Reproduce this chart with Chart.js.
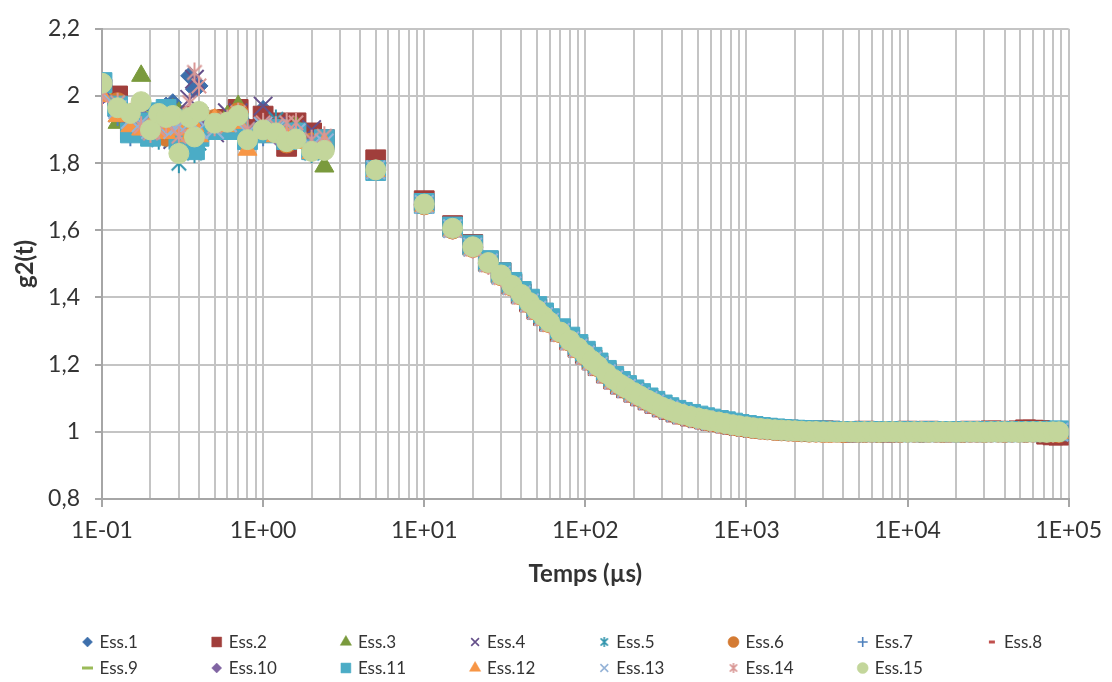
<!DOCTYPE html>
<html>
<head>
<meta charset="utf-8">
<script src="https://cdn.jsdelivr.net/npm/chart.js@4.4.1/dist/chart.umd.min.js"></script>
<style>
html,body{margin:0;padding:0;background:#fff}
#wrap{width:1112px;height:682px;position:relative}
</style>
</head>
<body>
<div id="wrap"><canvas id="c"></canvas></div>
<script>
// lag times (µs)
const tau = [0.1,0.125,0.15,0.175,0.2,0.225,0.25,0.275,0.3,0.35,0.375,0.4,0.5,0.6,0.7,0.8,1,1.2,1.4,1.6,2,2.4,
  5,10,15,20,25,30,35,40,45,50,
  55,60,70,80,90,100,
  110,120,135,150,165,180,200,
  220,245,270,300,330,365,400,
  450,500,550,600,670,740,820,900,1000,
  1100,1220,1350,1500,1650,1820,2000,
  2200,2450,2700,3000,3300,3650,4000,
  4450,4900,5400,6000,6650,7300,8100,9000,10000,
  11000,12200,13500,15000,16500,18200,20000,
  22000,24500,27000,30000,33000,36500,40000,
  44500,49000,54000,60000,66500,73000,80000,87000];

const ess1 = [2.02,1.97,1.93,1.95,1.90,1.92,1.97,1.98,1.93,2.06,2.02,2.03,1.90,1.92,1.95,1.91,1.96,1.90,1.92,1.91,1.84,1.86,
  1.782,1.680,1.607,1.553,1.506,1.469,1.439,1.412,1.388,1.366,
  1.347,1.330,1.300,1.275,1.253,1.233,
  1.215,1.199,1.177,1.158,1.143,1.132,1.119,
  1.108,1.096,1.086,1.075,1.068,1.060,1.054,
  1.048,1.043,1.039,1.035,1.031,1.027,1.023,1.020,1.016,
  1.013,1.011,1.009,1.007,1.006,1.005,1.004,
  1.003,1.002,1.001,1.001,1.000,1.001,1.000,
  1.000,1.001,1.000,1.000,1.001,1.000,1.000,1.001,1.000,
  1.000,1.001,1.000,1.000,1.001,1.000,1.000,
  1.001,1.000,1.000,1.001,1.000,1.000,1.001,
  1.000,1.000,1.001,1.000,1.000,1.001,1.000,1.001];
const ess2 = [2.02,2.00,1.90,1.93,1.92,1.89,1.95,1.90,1.92,1.94,1.91,1.93,1.92,1.93,1.96,1.90,1.94,1.92,1.85,1.92,1.89,1.87,
  1.810,1.688,1.614,1.558,1.508,1.474,1.440,1.411,1.387,1.365,
  1.346,1.329,1.299,1.274,1.252,1.232,
  1.214,1.197,1.175,1.157,1.142,1.131,1.118,
  1.107,1.095,1.085,1.074,1.067,1.059,1.053,
  1.047,1.042,1.038,1.034,1.030,1.026,1.022,1.019,1.016,
  1.013,1.011,1.009,1.007,1.006,1.005,1.004,
  1.003,1.002,1.002,1.003,1.002,1.001,1.000,
  0.999,1.001,1.002,1.000,1.001,0.999,1.000,1.001,1.002,
  1.001,1.000,1.002,1.001,1.000,1.001,1.000,
  1.001,1.002,1.000,1.001,1.003,1.002,1.001,
  1.001,1.003,1.006,1.005,1.004,0.993,0.991,0.990];
const ess3 = [2.01,1.92,1.88,2.06,1.87,1.93,1.89,1.96,1.95,1.91,1.93,1.92,1.90,1.94,1.97,1.89,1.90,1.88,1.90,1.91,1.87,1.79,
  1.776,1.676,1.603,1.549,1.502,1.464,1.433,1.406,1.382,1.360,
  1.341,1.324,1.294,1.269,1.247,1.227,
  1.209,1.193,1.171,1.153,1.138,1.127,1.114,
  1.103,1.091,1.081,1.071,1.063,1.056,1.049,
  1.043,1.038,1.034,1.030,1.026,1.022,1.018,1.015,1.012,
  1.009,1.007,1.005,1.003,1.002,1.001,1.000,
  0.999,0.998,0.997,0.997,0.996,0.995,0.994,
  0.993,0.992,0.993,0.992,0.993,0.995,0.996,0.996,0.997,
  0.997,0.998,0.997,0.996,0.997,0.998,0.997,
  0.998,0.997,0.998,0.997,0.998,0.998,0.997,
  0.998,0.997,0.998,0.998,0.997,0.998,0.997,0.998];
const ess4 = [2.00,1.95,1.90,1.94,1.88,1.91,1.93,1.87,1.90,1.99,2.05,1.94,1.89,1.95,1.95,1.90,1.97,1.91,1.90,1.89,1.90,1.86,
  1.781,1.679,1.606,1.551,1.505,1.468,1.437,1.410,1.386,1.364,
  1.345,1.328,1.298,1.273,1.251,1.231,
  1.213,1.197,1.175,1.157,1.142,1.131,1.118,
  1.107,1.095,1.085,1.074,1.067,1.059,1.053,
  1.047,1.042,1.038,1.034,1.030,1.026,1.022,1.019,1.016,
  1.013,1.011,1.009,1.007,1.006,1.005,1.003,
  1.002,1.001,1.001,1.000,1.000,1.000,0.999,
  1.000,1.000,0.999,1.000,1.000,0.999,1.000,1.000,1.000,
  0.999,1.000,1.000,0.999,1.000,1.000,1.000,
  0.999,1.000,1.000,1.000,0.999,1.000,1.000,
  0.999,1.000,1.000,0.999,1.000,1.000,0.999,1.000];
const ess5 = [2.03,1.96,1.89,1.93,1.91,1.87,1.90,1.92,1.80,1.86,1.83,1.86,1.92,1.90,1.93,1.88,1.91,1.93,1.90,1.87,1.83,1.85,
  1.779,1.677,1.607,1.553,1.507,1.470,1.440,1.413,1.389,1.368,
  1.349,1.332,1.302,1.277,1.255,1.235,
  1.217,1.201,1.179,1.161,1.145,1.134,1.121,
  1.110,1.098,1.088,1.077,1.069,1.062,1.055,
  1.049,1.044,1.040,1.036,1.032,1.028,1.024,1.021,1.018,
  1.015,1.012,1.010,1.008,1.007,1.006,1.005,
  1.004,1.003,1.002,1.001,1.001,1.000,1.001,
  1.000,1.000,1.001,1.000,1.000,1.001,1.000,1.000,1.001,
  1.000,1.000,1.001,1.000,1.000,1.001,1.000,
  1.000,1.001,1.000,1.000,1.001,1.000,1.000,
  1.001,1.000,1.000,1.001,1.000,1.000,1.001,1.002];
const ess6 = [2.01,1.98,1.91,1.92,1.90,1.93,1.88,1.94,1.90,1.91,1.90,1.89,1.93,1.92,1.95,1.88,1.89,1.90,1.86,1.89,1.86,1.85,
  1.779,1.676,1.604,1.549,1.502,1.465,1.434,1.407,1.383,1.361,
  1.342,1.325,1.295,1.270,1.248,1.228,
  1.210,1.194,1.172,1.154,1.139,1.128,1.115,
  1.104,1.092,1.082,1.071,1.064,1.056,1.050,
  1.044,1.039,1.035,1.031,1.027,1.023,1.019,1.016,1.013,
  1.010,1.008,1.006,1.004,1.003,1.002,1.001,
  1.000,0.999,0.999,0.998,0.998,0.999,0.998,
  0.999,0.999,0.998,0.999,0.998,0.999,0.999,0.998,0.999,
  0.999,0.998,0.999,0.999,0.998,0.999,0.999,
  0.998,0.999,0.999,0.998,0.999,0.999,0.998,
  0.999,0.999,0.998,0.999,0.999,0.998,0.999,0.998];
const ess7 = [2.03,1.94,1.88,1.96,1.93,1.89,1.91,1.95,1.92,1.89,1.92,1.94,1.91,1.90,1.94,1.87,1.88,1.91,1.89,1.90,1.85,1.84,
  1.780,1.679,1.607,1.552,1.505,1.468,1.438,1.411,1.387,1.365,
  1.346,1.329,1.299,1.274,1.252,1.232,
  1.214,1.198,1.176,1.158,1.142,1.132,1.119,
  1.108,1.095,1.085,1.075,1.067,1.060,1.053,
  1.047,1.042,1.038,1.034,1.030,1.026,1.022,1.019,1.016,
  1.013,1.011,1.009,1.007,1.006,1.005,1.003,
  1.002,1.001,1.001,1.000,1.000,1.000,1.000,
  0.999,1.000,1.000,1.000,1.000,0.999,1.000,1.000,1.000,
  1.000,0.999,1.000,1.000,1.000,1.000,0.999,
  1.000,1.000,1.000,1.000,0.999,1.000,1.000,
  1.000,1.000,0.999,1.000,1.000,1.000,1.000,1.001];
const ess8 = [2.00,1.96,1.93,1.92,1.94,1.92,1.90,1.93,1.91,1.93,1.95,1.92,1.90,1.91,1.93,1.89,1.90,1.89,1.88,1.87,1.86,1.85,
  1.783,1.681,1.608,1.553,1.506,1.469,1.437,1.410,1.386,1.364,
  1.345,1.328,1.298,1.273,1.251,1.231,
  1.213,1.197,1.175,1.157,1.142,1.131,1.118,
  1.107,1.095,1.085,1.074,1.067,1.059,1.053,
  1.047,1.042,1.038,1.034,1.030,1.026,1.022,1.019,1.016,
  1.013,1.011,1.009,1.007,1.006,1.005,1.004,
  1.003,1.002,1.002,1.001,1.002,1.001,1.002,
  1.003,1.002,1.001,1.002,1.001,1.002,1.003,1.002,1.001,
  1.002,1.001,1.002,1.003,1.002,1.001,1.002,
  1.001,1.002,1.003,1.002,1.001,1.002,1.003,
  1.002,1.004,1.003,1.004,1.003,1.004,1.003,1.004];
const ess9 = [2.01,1.95,1.92,1.95,1.91,1.90,1.92,1.94,1.89,1.92,1.93,1.91,1.91,1.92,1.94,1.88,1.89,1.90,1.89,1.88,1.85,1.84,
  1.778,1.677,1.605,1.550,1.503,1.466,1.435,1.408,1.384,1.362,
  1.343,1.326,1.296,1.271,1.249,1.229,
  1.211,1.195,1.173,1.155,1.140,1.129,1.116,
  1.105,1.093,1.083,1.072,1.065,1.057,1.051,
  1.045,1.040,1.036,1.032,1.028,1.024,1.020,1.017,1.014,
  1.011,1.009,1.007,1.005,1.004,1.003,1.002,
  1.001,1.000,0.999,0.998,0.998,0.997,0.998,
  0.997,0.998,0.997,0.998,0.998,0.997,0.998,0.999,0.998,
  0.998,0.999,0.998,0.998,0.999,0.998,0.998,
  0.999,0.998,0.998,0.999,0.998,0.998,0.999,
  0.998,0.998,0.999,0.998,0.998,0.999,0.998,0.998];
const ess10 = [2.00,1.95,1.92,1.94,1.89,1.92,1.90,1.93,1.88,1.93,1.90,1.91,1.92,1.91,1.94,1.89,1.90,1.88,1.89,1.88,1.86,1.85,
  1.780,1.678,1.606,1.551,1.504,1.467,1.436,1.409,1.385,1.363,
  1.344,1.327,1.297,1.272,1.250,1.230,
  1.212,1.196,1.174,1.156,1.141,1.130,1.117,
  1.106,1.094,1.084,1.073,1.066,1.058,1.052,
  1.046,1.041,1.037,1.033,1.029,1.025,1.021,1.018,1.015,
  1.012,1.010,1.008,1.006,1.005,1.004,1.003,
  1.002,1.001,1.000,1.000,0.999,1.000,1.000,
  0.999,1.000,1.000,1.000,0.999,1.000,1.000,0.999,1.000,
  1.000,1.000,0.999,1.000,1.000,0.999,1.000,
  1.000,1.000,0.999,1.000,1.000,1.000,0.999,
  1.000,1.000,0.999,1.000,1.000,0.999,1.000,1.000];
const ess11 = [2.04,1.97,1.89,1.92,1.88,1.95,1.96,1.93,1.87,1.91,1.84,1.88,1.90,1.90,1.92,1.87,1.89,1.90,1.87,1.89,1.84,1.87,
  1.778,1.680,1.610,1.556,1.510,1.474,1.445,1.418,1.395,1.373,
  1.354,1.337,1.307,1.282,1.260,1.240,
  1.222,1.205,1.183,1.165,1.150,1.138,1.125,
  1.114,1.101,1.091,1.080,1.072,1.064,1.058,
  1.052,1.047,1.042,1.038,1.034,1.030,1.026,1.022,1.019,
  1.016,1.013,1.011,1.009,1.007,1.006,1.005,
  1.004,1.003,1.003,1.002,1.002,1.001,1.001,
  1.001,1.000,1.001,1.001,1.000,1.001,1.001,1.000,1.001,
  1.000,1.001,1.000,1.001,1.001,1.000,1.001,
  1.000,1.001,1.001,1.000,1.001,1.001,1.000,
  1.001,1.000,1.001,1.001,1.000,1.001,1.002,1.003];
const ess12 = [2.00,1.94,1.91,1.90,1.91,1.93,1.89,1.92,1.90,1.88,1.91,1.88,1.93,1.91,1.92,1.84,1.89,1.88,1.88,1.86,1.83,1.86,
  1.776,1.672,1.598,1.541,1.494,1.457,1.425,1.398,1.374,1.352,
  1.333,1.316,1.286,1.261,1.239,1.219,
  1.202,1.186,1.165,1.147,1.133,1.122,1.109,
  1.098,1.087,1.077,1.067,1.060,1.053,1.047,
  1.041,1.036,1.032,1.028,1.024,1.021,1.017,1.014,1.011,
  1.009,1.007,1.005,1.003,1.002,1.001,1.000,
  0.999,0.998,0.998,0.997,0.997,0.997,0.998,
  0.998,0.997,0.998,0.998,0.997,0.998,0.998,0.997,0.997,
  0.998,0.998,0.997,0.998,0.998,0.997,0.998,
  0.998,0.997,0.998,0.998,0.997,0.998,0.998,
  0.997,0.998,0.998,0.997,0.998,0.997,0.996,0.997];
const ess13 = [2.01,1.96,1.93,1.92,1.90,1.91,1.93,1.90,1.91,1.92,1.94,1.90,1.90,1.92,1.93,1.89,1.91,1.90,1.88,1.89,1.85,1.86,
  1.780,1.677,1.605,1.550,1.503,1.466,1.435,1.408,1.384,1.362,
  1.343,1.326,1.296,1.271,1.249,1.229,
  1.211,1.195,1.173,1.155,1.140,1.129,1.116,
  1.105,1.093,1.083,1.072,1.065,1.057,1.051,
  1.045,1.040,1.036,1.032,1.028,1.024,1.020,1.017,1.014,
  1.011,1.009,1.007,1.005,1.004,1.003,1.002,
  1.001,1.000,1.000,0.999,0.999,0.999,1.000,
  0.999,0.999,1.000,0.999,0.999,1.000,0.999,0.999,1.000,
  0.999,0.999,1.000,0.999,0.999,1.000,0.999,
  0.999,1.000,0.999,0.999,1.000,0.999,0.999,
  1.000,0.999,0.999,1.000,0.999,0.999,1.000,0.999];
const ess14 = [2.00,1.98,1.95,1.91,1.89,1.90,1.92,1.94,1.88,1.98,2.07,2.03,1.91,1.93,1.95,1.90,1.92,1.91,1.92,1.92,1.87,1.88,
  1.779,1.675,1.601,1.545,1.497,1.460,1.429,1.402,1.378,1.356,
  1.337,1.320,1.290,1.265,1.243,1.223,
  1.206,1.190,1.168,1.150,1.136,1.125,1.112,
  1.101,1.089,1.079,1.069,1.062,1.054,1.048,
  1.042,1.037,1.033,1.029,1.025,1.022,1.018,1.015,1.012,
  1.010,1.008,1.006,1.004,1.003,1.002,1.001,
  1.000,0.999,0.999,0.998,0.998,0.998,0.999,
  0.999,0.998,0.998,0.999,0.998,0.998,0.999,0.998,0.998,
  0.999,0.998,0.998,0.999,0.998,0.998,0.999,
  0.998,0.998,0.999,0.998,0.998,0.999,0.998,
  0.998,0.999,0.998,0.998,0.999,0.998,0.998,0.999];
const ess15 = [2.038,1.965,1.948,1.983,1.899,1.948,1.936,1.942,1.829,1.936,1.878,1.954,1.919,1.922,1.942,1.870,1.899,1.890,1.864,1.872,1.835,1.838,
  1.780,1.678,1.606,1.551,1.504,1.467,1.436,1.409,1.385,1.363,
  1.344,1.327,1.297,1.272,1.250,1.230,
  1.212,1.196,1.174,1.156,1.141,1.130,1.117,
  1.106,1.094,1.084,1.073,1.066,1.058,1.052,
  1.046,1.041,1.037,1.033,1.029,1.025,1.021,1.018,1.015,
  1.012,1.010,1.008,1.006,1.005,1.004,1.003,
  1.002,1.001,1.001,1.000,1.000,0.999,1.000,
  1.000,0.999,1.000,1.000,0.999,1.000,1.000,1.000,0.999,
  1.000,1.000,0.999,1.000,1.000,1.000,0.999,
  1.000,1.000,1.000,0.999,1.000,1.000,1.000,
  1.000,0.999,1.000,1.000,1.000,0.999,1.000,1.000];

const seriesNames = ['Ess.1','Ess.2','Ess.3','Ess.4','Ess.5','Ess.6','Ess.7','Ess.8','Ess.9','Ess.10','Ess.11','Ess.12','Ess.13','Ess.14','Ess.15'];
const seriesData = [ess1,ess2,ess3,ess4,ess5,ess6,ess7,ess8,ess9,ess10,ess11,ess12,ess13,ess14,ess15];
const xMajor = [0.1,1,10,100,1000,10000,100000];
const xTickLabels = ['1E-01','1E+00','1E+01','1E+02','1E+03','1E+04','1E+05'];

// marker styling (Excel-like)
const colors = ['#3D6FAB','#A03E3B','#7A9A3D','#65508A','#3295AD','#D47B33','#4F81BD','#C0504D','#9BBB59',
  '#8064A2','#4BACC6','#F79646','#95B3D7','#D99795','#C3D69B'];
const shapes = ['rectRot','rect','triangle','crossRot','asterisk','circle','cross','line','line',
  'rectRot','rect','triangle','crossRot','asterisk','circle'];
const plotR = {rectRot: 9, rect: 14, triangle: 11, crossRot: 13, asterisk: 10, circle: 10, cross: 10};
const legR = {rectRot: 5, rect: 7, triangle: 6.5, crossRot: 5.5, asterisk: 5, circle: 5.5, cross: 5};

function makeAsterisk(color, r, lw) {
  const c = document.createElement('canvas');
  const s = Math.ceil(2 * r + lw + 2);
  c.width = c.height = s;
  const g = c.getContext('2d');
  const m = s / 2, d = r * 0.72;
  g.strokeStyle = color; g.lineWidth = lw;
  g.beginPath();
  g.moveTo(m, m - r); g.lineTo(m, m + r);
  g.moveTo(m - d, m - d); g.lineTo(m + d, m + d);
  g.moveTo(m + d, m - d); g.lineTo(m - d, m + d);
  g.stroke();
  return c;
}

function lineR(i, legend) {
  if (i === 7) return legend ? 3 : 5;
  return legend ? 5.5 : 9;
}

const fmtComma = v => String(parseFloat(Number(v).toFixed(1))).replace('.', ',');

const gridValues = [];
for (let e = -1; e <= 4; e++) {
  for (let k = 1; k <= 9; k++) gridValues.push(parseFloat((k * Math.pow(10, e)).toPrecision(3)));
}
gridValues.push(100000);

const datasets = seriesData.map((ys, i) => {
  const sh = shapes[i];
  const isLineStyle = sh === 'crossRot' || sh === 'cross' || sh === 'line';
  return {
    label: seriesNames[i],
    data: tau.map((t, k) => ({x: t, y: ys[k]})),
    pointStyle: sh === 'asterisk' ? makeAsterisk(colors[i], 10, 2) : sh,
    pointRadius: sh === 'line' ? lineR(i, false) : plotR[sh],
    pointHoverRadius: sh === 'line' ? lineR(i, false) : plotR[sh],
    backgroundColor: colors[i],
    borderColor: colors[i],
    borderWidth: sh === 'line' ? 3.5 : (isLineStyle ? 2 : 1),
    showLine: false,
    order: 14 - i
  };
});

const legendPlugin = {
  id: 'gridLegend',
  afterDraw(chart) {
    const ctx = chart.ctx;
    ctx.save();
    seriesNames.forEach((name, i) => {
      const col = i % 8, row = Math.floor(i / 8);
      const x = 87.5 + col * 129.2, y = 642 + row * 26;
      const sh = shapes[i];
      ctx.fillStyle = colors[i];
      ctx.strokeStyle = colors[i];
      const opts = {
        pointStyle: sh === 'asterisk' ? makeAsterisk(colors[i], 5, 1.6) : sh,
        rotation: 0,
        radius: sh === 'line' ? lineR(i, true) : legR[sh],
        borderWidth: sh === 'line' ? 3 : ((sh === 'crossRot' || sh === 'cross') ? 1.6 : 0.5)
      };
      ctx.lineWidth = opts.borderWidth;
      Chart.helpers.drawPoint(ctx, opts, x, y);
      ctx.fillStyle = '#333';
      ctx.font = '17px Lato';
      ctx.textAlign = 'left';
      ctx.textBaseline = 'middle';
      ctx.fillText(name, x + 12, y + 1);
    });
    ctx.restore();
  }
};

Chart.defaults.font.family = 'Lato';
Chart.defaults.color = '#333';

new Chart(document.getElementById('c'), {
  type: 'scatter',
  data: {datasets},
  options: {
    responsive: true,
    maintainAspectRatio: false,
    animation: false,
    layout: {padding: {left: 0, right: 40, top: 16, bottom: 93}},
    plugins: {legend: {display: false}, tooltip: {enabled: false}},
    scales: {
      x: {
        type: 'logarithmic',
        min: 0.1,
        max: 100000,
        afterBuildTicks: s => { s.ticks = gridValues.map(v => ({value: v})); },
        afterFit: s => { s.height = 90; },
        ticks: {
          autoSkip: false, maxRotation: 0, padding: 10,
          font: {size: 23}, color: '#333',
          callback: v => { const i = xMajor.indexOf(v); return i >= 0 ? xTickLabels[i] : ''; }
        },
        grid: {
          color: '#c4c4c4', lineWidth: 2, tickLength: 8,
          tickColor: c => (c.tick && xMajor.includes(c.tick.value)) ? '#a6a6a6' : 'rgba(0,0,0,0)'
        },
        border: {color: '#a6a6a6', width: 2},
        title: {display: true, text: 'Temps (µs)', font: {size: 24, weight: 'bold'}, color: '#333', padding: {top: 0, bottom: 0}}
      },
      y: {
        min: 0.8,
        max: 2.2,
        afterFit: s => { s.width = 102; },
        ticks: {stepSize: 0.2, padding: 15, font: {size: 23}, color: '#333', callback: v => fmtComma(v)},
        grid: {color: '#c4c4c4', lineWidth: 2, tickLength: 7, tickColor: '#a6a6a6'},
        border: {color: '#a6a6a6', width: 2},
        title: {display: true, text: 'g2(t)', font: {size: 24, weight: 'bold'}, color: '#333', padding: {top: 11, bottom: 0}}
      }
    }
  },
  plugins: [legendPlugin]
});
</script>
</body>
</html>
